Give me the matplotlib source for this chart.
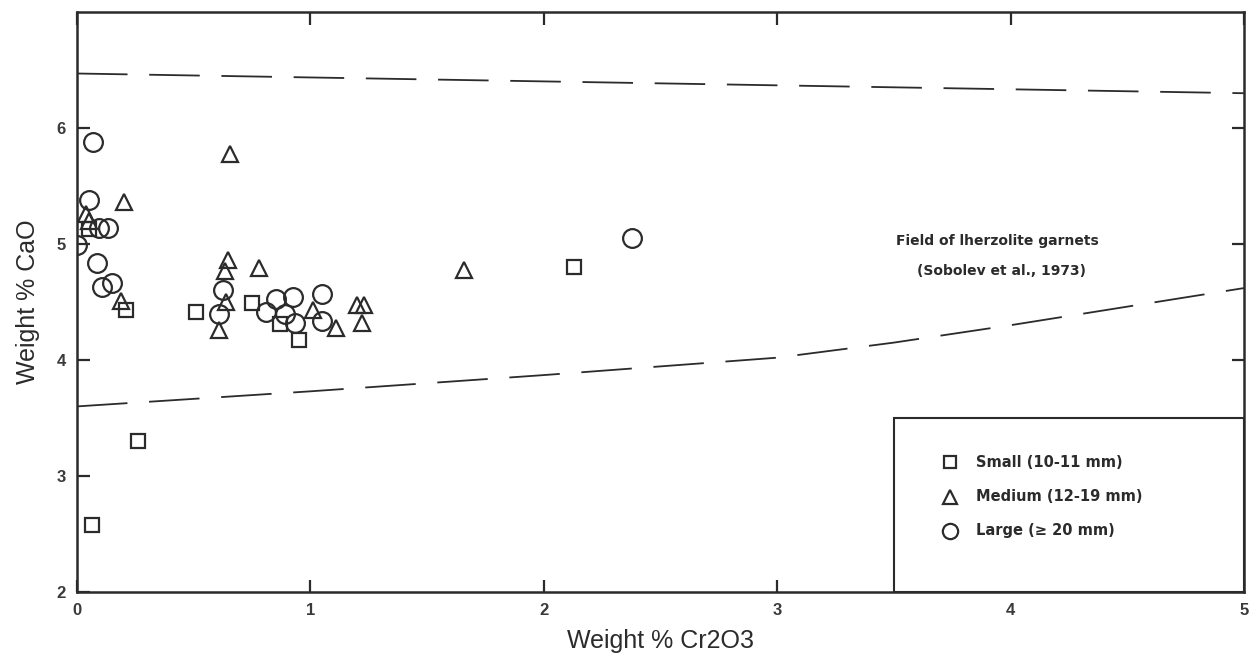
import matplotlib
matplotlib.use("Agg")
import matplotlib.pyplot as plt
from matplotlib.patches import Rectangle

# ── Data ───────────────────────────────────────────────────────────────────────
small_x = [0.05, 0.21, 0.51, 0.75, 0.87, 0.95, 2.13, 0.26, 0.065]
small_y = [5.13, 4.43, 4.41, 4.49, 4.31, 4.17, 4.80, 3.30, 2.58]

medium_x = [0.655, 0.20, 0.04, 0.05, 0.19, 0.648, 0.634, 0.64, 0.61, 0.78,
            1.01, 1.11, 1.20, 1.23, 1.22, 1.66]
medium_y = [5.78, 5.36, 5.26, 5.20, 4.51, 4.86, 4.77, 4.50, 4.26, 4.79,
            4.43, 4.28, 4.47, 4.47, 4.32, 4.78]

large_x = [0.07, 0.05, 0.095, 0.135, 0.0, 0.087, 0.149, 0.106, 0.625, 0.61,
           0.81, 0.852, 0.926, 0.89, 0.935, 1.05, 1.05, 2.38]
large_y = [5.88, 5.38, 5.14, 5.14, 4.99, 4.84, 4.66, 4.63, 4.60, 4.40,
           4.41, 4.53, 4.54, 4.40, 4.32, 4.57, 4.34, 5.05]

# Sobolev et al. (1973) lherzolite garnet field boundaries
upper_x = [0, 5]
upper_y = [6.47, 6.30]
lower_x = [0, 1, 2, 3, 3.5, 4, 4.5, 5]
lower_y = [3.60, 3.73, 3.87, 4.02, 4.15, 4.30, 4.46, 4.62]

legend_labels = ["Small (10-11 mm)", "Medium (12-19 mm)", "Large (\u2265 20 mm)"]

INK = "#2b2b2b"
plt.rcParams["font.family"] = ["Liberation Sans", "DejaVu Sans"]
ANNOT = ["DejaVu Sans", "Liberation Sans"]

fig = plt.figure(figsize=(12.58, 6.61), dpi=100)
ax = fig.add_axes([0.0612, 0.1044, 0.9276, 0.8774])

dash = dict(color=INK, lw=1.3, dashes=(28, 12))
ax.plot(upper_x, upper_y, **dash)
ax.plot(lower_x, lower_y, **dash)

mk = dict(ls="none", mfc="none", mec=INK, mew=1.6)
ax.plot(small_x, small_y, marker="s", ms=9.5, **mk)
ax.plot(medium_x, medium_y, marker="^", ms=12, **mk)
ax.plot(large_x, large_y, marker="o", ms=13.5, **mk)

ax.text(3.51, 5.03, "Field of lherzolite garnets", fontsize=10, fontweight="bold",
        color=INK, va="center", ha="left", family=ANNOT)
ax.text(3.60, 4.77, "(Sobolev et al., 1973)", fontsize=10, fontweight="bold",
        color=INK, va="center", ha="left", family=ANNOT)

# legend box
ax.add_patch(Rectangle((3.5, 2.0), 1.5, 1.5, facecolor="white", edgecolor=INK,
                       lw=1.5, zorder=5))
leg_y = [3.12, 2.82, 2.53]
for m, s, yy, lab in zip(["s", "^", "o"], [8.5, 10, 11], leg_y, legend_labels):
    ax.plot([3.74], [yy], marker=m, ms=s, zorder=6, **mk)
    ax.text(3.85, yy, lab, fontsize=10.5, fontweight="bold", color=INK,
            va="center", ha="left", zorder=6, family=ANNOT)

ax.set_xlim(0, 5)
ax.set_ylim(2, 7)
ax.set_xticks([0, 1, 2, 3, 4, 5])
ax.set_yticks([2, 3, 4, 5, 6])
ax.tick_params(direction="in", length=9, width=1.6, color=INK, labelcolor="#3a3a3a",
               labelsize=12, top=True, right=True, pad=8)
for lbl in ax.get_xticklabels() + ax.get_yticklabels():
    lbl.set_fontweight("bold")
for sp in ax.spines.values():
    sp.set_linewidth(1.8)
    sp.set_color(INK)

ax.set_xlabel("Weight % Cr2O3", fontsize=18, color=INK, labelpad=8)
ax.set_ylabel("Weight % CaO", fontsize=18, color=INK, labelpad=12)

fig.savefig("out.png", dpi=100)
